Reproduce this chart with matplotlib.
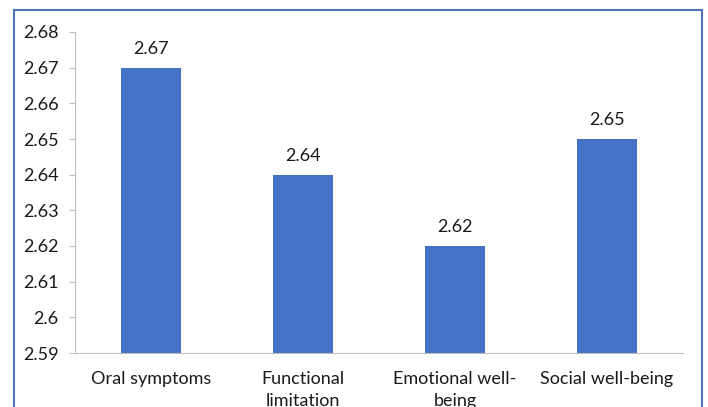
import matplotlib
matplotlib.use('Agg')
import matplotlib.pyplot as plt
import matplotlib.patches as mpatches
from matplotlib.ticker import FuncFormatter, MultipleLocator

# data
categories = ['Oral symptoms', 'Functional\nlimitation', 'Emotional well-\nbeing', 'Social well-being']
scores = [2.67, 2.64, 2.62, 2.65]
bar_color = '#4472C4'
frame_color = '#4F72B8'

plt.rcParams['font.family'] = ['Lato', 'DejaVu Sans']

fig = plt.figure(figsize=(7.08, 4.07), dpi=100)
ax = fig.add_axes([75 / 708, 1 - 353 / 407, 608 / 708, 321 / 407])

x = range(len(categories))
bars = ax.bar(x, scores, width=0.4, color=bar_color, bottom=0)

ax.set_ylim(2.59, 2.68)
ax.set_xlim(-0.5, len(categories) - 0.5)
ax.yaxis.set_major_locator(MultipleLocator(0.01))
ax.yaxis.set_major_formatter(FuncFormatter(lambda v, p: '{:g}'.format(round(v, 2))))

for b, v in zip(bars, scores):
    ax.annotate('{:.2f}'.format(v), (b.get_x() + b.get_width() / 2, v),
                xytext=(0, 8), textcoords='offset points',
                ha='center', va='bottom', fontsize=13, color='#1a1a1a')

ax.set_xticks(list(x))
ax.set_xticklabels(categories, fontsize=13, color='#1a1a1a', linespacing=1.45)
ax.tick_params(axis='x', length=0, pad=13)
ax.tick_params(axis='y', labelsize=13, labelcolor='#1a1a1a', length=4,
               color='#BFBFBF', pad=8)

for s in ['top', 'right']:
    ax.spines[s].set_visible(False)
ax.spines['left'].set_color('#BFBFBF')
ax.spines['bottom'].set_color('#BFBFBF')

# blue frame round the chart, cut off at the bottom like the source
frame = mpatches.Rectangle((14 / 708, -0.2), 688 / 708, 1.2 - 10 / 407,
                           transform=fig.transFigure, fill=False,
                           edgecolor=frame_color, linewidth=1.5, clip_on=False)
fig.patches.append(frame)

fig.savefig('out.png', dpi=100)
